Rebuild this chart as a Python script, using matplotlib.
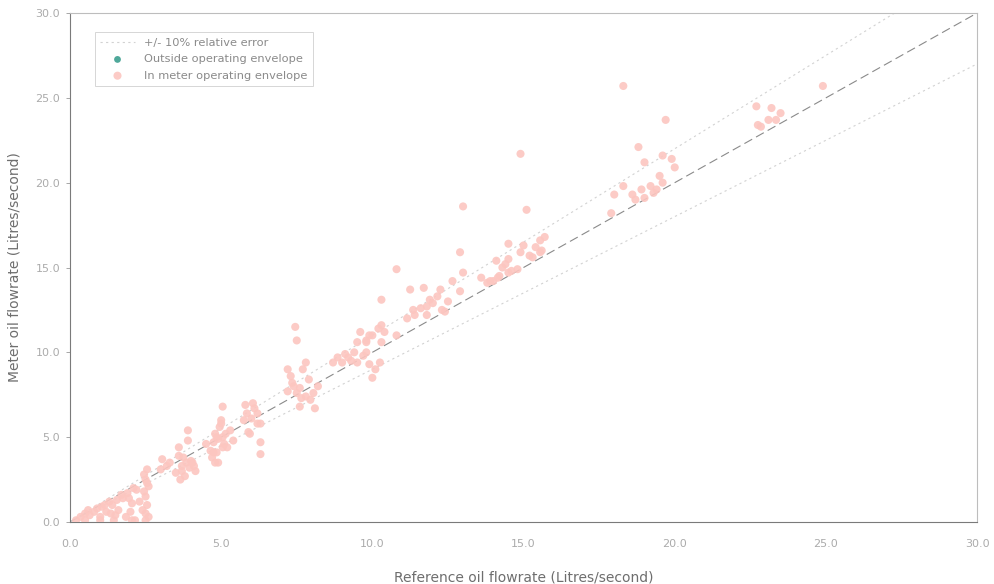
import matplotlib
matplotlib.use("Agg")
import matplotlib.pyplot as plt
from matplotlib.ticker import FormatStrFormatter

# Reference oil flowrate (L/s) and meter oil flowrate (L/s), in meter operating envelope
ref_in = [
    0.2, 0.5, 0.8, 1.05, 1.2, 1.3, 1.55, 1.6, 1.45, 1.9, 2.2, 2.05, 2.0, 2.15,
    0.35, 0.65, 1.0, 1.4, 1.75, 2.1, 0.5, 1.0, 1.5, 2.05,
    0.9, 1.15, 1.7, 1.95, 2.3, 0.6, 1.35, 1.85,
    2.55, 2.5, 2.6, 2.5, 2.4, 2.5, 2.45, 2.55, 2.6, 2.45, 2.55, 2.5,
    3.05, 3.0, 3.2, 3.75, 3.9, 3.9, 3.6, 3.7, 3.8, 4.05, 4.15, 3.65, 3.5, 3.85, 4.0,
    3.7, 3.95, 3.6, 4.1, 3.3,
    5.05, 5.0, 4.85, 4.75, 4.9, 5.3, 5.4, 5.2, 5.0, 4.95, 4.8, 5.05, 4.75, 5.05, 4.85, 4.8, 4.65, 4.5,
    5.15, 4.9, 5.1, 4.7,
    6.05, 5.85, 6.2, 5.95, 6.3, 6.3, 6.2, 5.9, 6.3, 6.0, 5.75, 6.1, 5.8,
    7.45, 7.5, 7.8, 7.7, 7.35, 7.2, 7.5, 7.6, 7.8, 8.05, 8.2, 7.95, 8.1, 7.6, 7.2,
    7.4, 7.65, 7.9, 7.3,
    8.85, 8.7, 9.0, 9.2, 9.4, 9.5, 9.8, 9.6, 9.5, 9.8, 10.0, 9.9, 10.25, 10.0, 10.3, 10.4, 10.3, 9.9, 9.8, 10.2,
    9.1, 9.3, 9.7, 10.1,
    10.8, 10.3, 10.8, 11.25, 11.7, 11.9, 11.8, 12.5, 12.3, 11.35, 11.4, 11.15, 11.8, 12.15, 12.25,
    11.6, 12.0, 12.4,
    13.0, 12.9, 13.0, 12.65, 12.9, 13.6, 14.0, 14.15, 14.5, 14.8, 14.4, 14.1, 14.5, 14.9, 15.2, 15.55,
    15.0, 14.5, 15.55, 15.7, 13.8, 14.3, 14.9, 15.1, 15.4,
    13.9, 14.2, 14.6, 15.3, 15.6,
    17.9, 18.0, 18.3, 18.6, 18.9, 19.2, 19.0, 19.4, 19.6, 19.5, 20.0, 19.9, 19.6, 19.0, 18.8, 19.7, 18.3,
    19.3, 18.7,
    22.7, 23.2, 23.5, 22.75, 22.85, 23.1, 23.35, 24.9,
]
meter_in = [
    0.1, 0.5, 0.6, 0.9, 0.6, 1.2, 1.3, 0.7, 0.1, 1.7, 1.9, 1.1, 0.6, 0.1,
    0.3, 0.4, 0.3, 1.0, 1.4, 2.0, 0.1, 0.1, 0.4, 0.1,
    0.8, 1.0, 1.6, 1.4, 1.2, 0.7, 0.5, 0.3,
    3.1, 2.5, 2.1, 1.5, 0.7, 0.1, 2.8, 1.0, 0.3, 1.8, 2.3, 0.5,
    3.7, 3.1, 3.3, 3.8, 5.4, 4.8, 4.4, 3.3, 2.7, 3.5, 3.0, 2.5, 2.9, 3.5, 3.6,
    3.0, 3.2, 3.9, 3.3, 3.5,
    6.8, 5.8, 5.0, 4.1, 3.5, 5.4, 4.8, 4.4, 6.0, 5.6, 5.2, 5.0, 4.7, 4.4, 4.1, 3.5, 4.2, 4.6,
    5.2, 4.9, 4.6, 3.8,
    7.0, 6.4, 5.8, 5.2, 4.7, 4.0, 6.4, 5.3, 5.8, 6.1, 6.0, 6.7, 6.9,
    11.5, 10.7, 9.4, 9.0, 8.2, 7.7, 7.6, 7.9, 7.4, 7.6, 8.0, 7.2, 6.7, 6.8, 9.0,
    8.0, 7.3, 8.4, 8.6,
    9.7, 9.4, 9.4, 9.7, 10.0, 9.4, 10.0, 11.2, 10.6, 10.7, 11.0, 9.3, 9.4, 8.5, 11.6, 11.2, 10.6, 11.0, 10.6, 11.4,
    9.9, 9.5, 9.8, 9.0,
    14.9, 13.1, 11.0, 13.7, 13.8, 13.1, 12.7, 13.0, 12.5, 12.5, 12.2, 12.0, 12.2, 13.3, 13.7,
    12.6, 12.9, 12.4,
    18.6, 15.9, 14.7, 14.2, 13.6, 14.4, 14.2, 14.4, 14.7, 14.9, 15.2, 15.4, 15.5, 15.9, 15.7, 15.9,
    16.3, 16.4, 16.6, 16.8, 14.1, 15.0, 21.7, 18.4, 16.2,
    14.2, 14.5, 14.8, 15.6, 16.0,
    18.2, 19.3, 19.8, 19.3, 19.6, 19.8, 19.1, 19.6, 20.0, 20.4, 20.9, 21.4, 21.6, 21.2, 22.1, 23.7, 25.7,
    19.4, 19.0,
    24.5, 24.4, 24.1, 23.4, 23.3, 23.7, 23.7, 25.7,
]
# Outside operating envelope (no points visible)
ref_out = []
meter_out = []

x_ticks = [0, 5, 10, 15, 20, 25, 30]
y_ticks = [0, 5, 10, 15, 20, 25, 30]
axis_max = 30.0
rel_err = 0.10

fig = plt.figure(figsize=(9.94, 5.84), dpi=100)
ax = fig.add_axes([0.0704, 0.1062, 0.9126, 0.8715])

line_x = [0, axis_max]
ax.plot(line_x, line_x, color='#8a8a8a', lw=0.8, ls=(0, (8, 4)), zorder=2)
ax.plot([0, axis_max / (1 + rel_err)], [0, axis_max], color='#d2d2d2', lw=0.8,
        ls=(0, (2, 3)), zorder=2, label='+/- 10% relative error')
ax.plot([0, axis_max], [0, axis_max * (1 - rel_err)], color='#d2d2d2', lw=0.8,
        ls=(0, (2, 3)), zorder=2)

ax.scatter(ref_out, meter_out, s=24, color='#4fa89a', edgecolors='none',
           label='Outside operating envelope', zorder=3)
ax.scatter(ref_in, meter_in, s=34, color='#fcc6c0', edgecolors='none', alpha=0.9,
           label='In meter operating envelope', zorder=3)

ax.set_xlim(0, axis_max)
ax.set_ylim(0, axis_max)
ax.set_xticks(x_ticks)
ax.set_yticks(y_ticks)
ax.xaxis.set_major_formatter(FormatStrFormatter('%.1f'))
ax.yaxis.set_major_formatter(FormatStrFormatter('%.1f'))
ax.tick_params(axis='both', labelsize=8, labelcolor='#ababab', color='#999999',
               length=3, width=0.6)
ax.tick_params(axis='x', length=0, pad=12)
ax.tick_params(axis='y', pad=4)

for side in ['left', 'bottom']:
    ax.spines[side].set_color('#7a7a7a')
    ax.spines[side].set_linewidth(0.8)
for side in ['top', 'right']:
    ax.spines[side].set_color('#bdbdbd')
    ax.spines[side].set_linewidth(0.8)

ax.set_xlabel('Reference oil flowrate (Litres/second)', fontsize=10, color='#6e6e6e', labelpad=16)
ax.set_ylabel('Meter oil flowrate (Litres/second)', fontsize=10, color='#6e6e6e', labelpad=10)

leg = ax.legend(loc='upper left', bbox_to_anchor=(0.021, 0.973), fontsize=8.2,
                frameon=True, fancybox=False, borderpad=0.5, labelspacing=0.55,
                handlelength=3.0, markerscale=1.0)
leg.get_frame().set_edgecolor('#cccccc')
leg.get_frame().set_linewidth(0.7)
for t in leg.get_texts():
    t.set_color('#8a8a8a')

fig.savefig('out.png', dpi=100)
